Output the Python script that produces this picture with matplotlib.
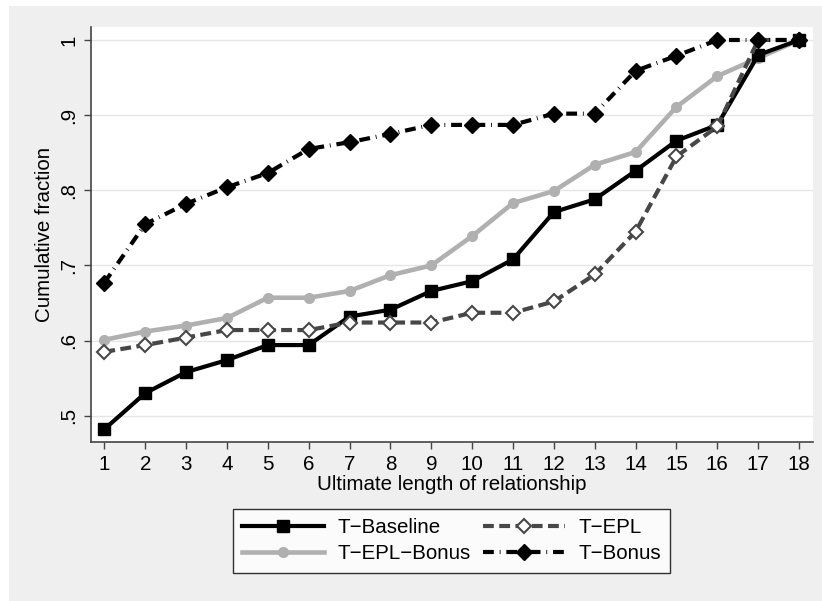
import matplotlib
matplotlib.use('Agg')
import matplotlib.pyplot as plt
from matplotlib.patches import Rectangle

plt.rcParams['font.family'] = ['Liberation Sans', 'DejaVu Sans']

lengths = list(range(1, 19))
t_baseline = [0.482, 0.530, 0.558, 0.574, 0.594, 0.594, 0.632, 0.641, 0.666,
              0.679, 0.708, 0.771, 0.788, 0.826, 0.866, 0.887, 0.980, 1.0]
t_epl = [0.585, 0.594, 0.604, 0.614, 0.614, 0.614, 0.624, 0.624, 0.624,
         0.637, 0.637, 0.652, 0.688, 0.745, 0.845, 0.885, 1.0, 1.0]
t_epl_bonus = [0.601, 0.612, 0.620, 0.630, 0.657, 0.657, 0.666, 0.687, 0.700,
               0.739, 0.783, 0.799, 0.834, 0.851, 0.911, 0.952, 0.976, 1.0]
t_bonus = [0.677, 0.755, 0.782, 0.804, 0.823, 0.855, 0.864, 0.875, 0.887,
           0.887, 0.887, 0.902, 0.902, 0.959, 0.979, 1.0, 1.0, 1.0]

yticks = [0.5, 0.6, 0.7, 0.8, 0.9, 1.0]
ytick_labels = ['.5', '.6', '.7', '.8', '.9', '1']

FS = 14.8
W, H = 822, 601
fig = plt.figure(figsize=(W / 100, H / 100), dpi=100, facecolor='white')
fig.patches.append(Rectangle((9 / W, 0), 1 - 9 / W, 1 - 6 / H,
                             transform=fig.transFigure, facecolor='#efefef',
                             edgecolor='none', zorder=-10))

ax = fig.add_axes([91 / W, 1 - 442 / H, (813 - 91) / W, (442 - 27) / H])
ax.set_facecolor('white')

ax.plot(lengths, t_baseline, '-s', color='black', lw=3, ms=8,
        label='T\u2212Baseline', zorder=3)
ax.plot(lengths, t_epl, color='#474747', lw=3, ls=(0, (2.6, 1.3)),
        marker='D', ms=7, mfc='white', mec='#474747', mew=1.5,
        label='T\u2212EPL', zorder=4)
ax.plot(lengths, t_epl_bonus, '-o', color='#b0b0b0', lw=3.3, ms=7,
        label='T\u2212EPL\u2212Bonus', zorder=2)
ax.plot(lengths, t_bonus, color='black', lw=3, ls=(0, (2.6, 1.4, 0.2, 1.4)),
        marker='D', ms=8.5, label='T\u2212Bonus', zorder=5)

ax.set_xlim(0.674, 18.34)
ax.set_ylim(0.465, 1.0173)
ax.set_xticks(lengths)
ax.set_yticks(yticks)
ax.set_yticklabels(ytick_labels, rotation=90, va='center')
ax.tick_params(labelsize=FS, color='#444444', length=5, width=1, pad=4)
ax.grid(True, axis='y', color='#e6e6e6', lw=1)
ax.set_axisbelow(True)
for side in ['top', 'right']:
    ax.spines[side].set_visible(False)
for side in ['left', 'bottom']:
    ax.spines[side].set_color('#444444')
    ax.spines[side].set_linewidth(1.2)

ax.set_xlabel('Ultimate length of relationship', fontsize=FS, labelpad=1)
ax.set_ylabel('Cumulative fraction', fontsize=FS, labelpad=4)

handles, labels = ax.get_legend_handles_labels()
order = [0, 2, 1, 3]
leg = fig.legend([handles[i] for i in order], [labels[i] for i in order],
                 ncol=2, loc='upper center',
                 bbox_to_anchor=((232 + 671) / 2 / W, 1 - 509 / H),
                 fontsize=FS, handlelength=4.0, handletextpad=0.65,
                 columnspacing=0.6, frameon=True, fancybox=False,
                 edgecolor='black', borderaxespad=0, borderpad=0.45,
                 labelspacing=0.35)
leg.get_frame().set_linewidth(1)

fig.savefig('out.png', dpi=100, facecolor=fig.get_facecolor())
